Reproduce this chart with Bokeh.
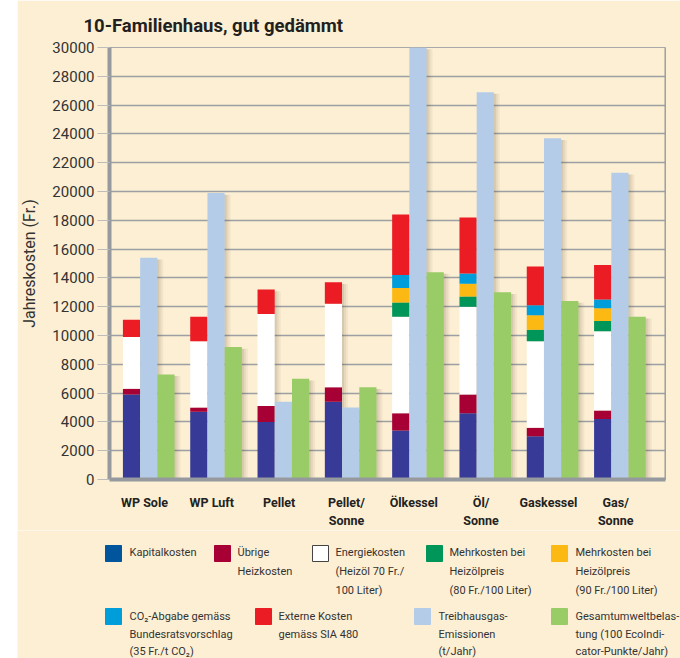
from bokeh.plotting import figure
from bokeh.models import FixedTicker, Range1d, Spacer, ColumnDataSource, Span
from bokeh.layouts import row, column
from bokeh.embed import file_html
from bokeh.resources import INLINE
from bokeh.core.properties import value

# ---------------- data ----------------
categories = ["WP Sole", "WP Luft", "Pellet", "Pellet/\nSonne", "Ölkessel", "Öl/\nSonne", "Gaskessel", "Gas/\nSonne"]
kapitalkosten = [5900, 4700, 4000, 5400, 3400, 4600, 3000, 4200]
uebrige_heizkosten = [400, 300, 1100, 1000, 1200, 1300, 600, 600]
energiekosten = [3600, 4600, 6400, 5800, 6700, 6100, 6000, 5500]
mehrkosten_80 = [0, 0, 0, 0, 1000, 700, 800, 700]
mehrkosten_90 = [0, 0, 0, 0, 1000, 900, 1000, 900]
co2_abgabe = [0, 0, 0, 0, 900, 700, 700, 600]
externe_kosten = [1200, 1700, 1700, 1500, 4200, 3900, 2700, 2400]
treibhausgas = [15400, 19900, 5400, 5000, 30000, 26900, 23700, 21300]
gesamtumwelt = [7300, 9200, 7000, 6400, 14400, 13000, 12400, 11300]
y_ticks = list(range(0, 30001, 2000))

stack_names = ["kap", "ueb", "ene", "m80", "m90", "co2", "ext"]
stack_colors = ["#373b97", "#a60034", "#ffffff", "#00965a", "#fcb913", "#009ddb", "#ec1c24"]

legend_entries = [
    (["Kapitalkosten"], "#00559c"),
    (["Übrige", "Heizkosten"], "#a60034"),
    (["Energiekosten", "(Heizöl 70 Fr./", "100 Liter)"], "#ffffff"),
    (["Mehrkosten bei", "Heizölpreis", "(80 Fr./100 Liter)"], "#00965a"),
    (["Mehrkosten bei", "Heizölpreis", "(90 Fr./100 Liter)"], "#fcb913"),
    (["CO\u2082-Abgabe gemäss", "Bundesratsvorschlag", "(35 Fr./t CO\u2082)"], "#009ddb"),
    (["Externe Kosten", "gemäss SIA 480"], "#ec1c24"),
    (["Treibhausgas-", "Emissionen", "(t/Jahr)"], "#b4cce8"),
    (["Gesamtumweltbelas-", "tung (100 EcoIndi-", "cator-Punkte/Jahr)"], "#99cc66"),
]

# ---------------- layout helpers (page pixels -> data) ----------------
FONT = "Roboto"
BG = "#fdefd3"
X0, DX = 147.3, 67.43


def xd(px):
    return (px - X0) / DX


n = len(categories)
idx = list(range(n))
BW = 0.255
OFF = 0.256

src = ColumnDataSource(dict(
    xs=[i - OFF for i in idx], xb=idx, xg=[i + OFF for i in idx],
    kap=kapitalkosten, ueb=uebrige_heizkosten, ene=energiekosten,
    m80=mehrkosten_80, m90=mehrkosten_90, co2=co2_abgabe, ext=externe_kosten,
    tb=treibhausgas, ge=gesamtumwelt,
))
totals = [sum(v) for v in zip(kapitalkosten, uebrige_heizkosten, energiekosten,
                              mehrkosten_80, mehrkosten_90, co2_abgabe, externe_kosten)]

p = figure(width=663, height=530, output_backend="svg", toolbar_location=None,
           x_range=Range1d(xd(108), xd(665)), y_range=Range1d(0, 30000),
           min_border_left=91, min_border_right=15, min_border_top=47, min_border_bottom=43)
p.background_fill_color = BG
p.border_fill_color = BG
p.outline_line_color = "#a8a8a8"
p.outline_line_width = 1

p.title.text = "10-Familienhaus, gut gedämmt"
p.title.align = "left"
p.title.offset = -26
p.title.standoff = 21
p.title.text_font = FONT
p.title.text_font_size = "18.5px"
p.title.text_font_style = "bold"
p.title.text_color = "#231f20"

# shadows
for k, a in ((2, 0.10), (4, 0.08), (6, 0.06)):
    o = k / DX
    p.vbar(x=[i - OFF + o for i in idx], top=[t - 120 for t in totals], width=BW, bottom=0,
           fill_color="#5a4a30", fill_alpha=a, line_color=None)
    p.vbar(x=[i + o for i in idx], top=[t - 120 for t in treibhausgas], width=BW, bottom=0,
           fill_color="#5a4a30", fill_alpha=a, line_color=None)
    p.vbar(x=[i + OFF + o for i in idx], top=[t - 120 for t in gesamtumwelt], width=BW, bottom=0,
           fill_color="#5a4a30", fill_alpha=a, line_color=None)

p.vbar_stack(stack_names, x="xs", width=BW, color=stack_colors, line_color=None, source=src)
p.vbar(x="xb", top="tb", width=BW, bottom=0, fill_color="#b4cce8", line_color=None, source=src)
p.vbar(x="xg", top="ge", width=BW, bottom=0, fill_color="#99cc66", line_color=None, source=src)

# axes
p.yaxis.ticker = FixedTicker(ticks=y_ticks)
p.ygrid.ticker = FixedTicker(ticks=y_ticks)
p.ygrid.grid_line_color = "#9c9fa3"
p.ygrid.grid_line_width = 1.5
p.xgrid.grid_line_color = None
p.yaxis.axis_line_color = "#96999d"
p.yaxis.axis_line_width = 4
p.yaxis.major_tick_out = 12
p.yaxis.major_tick_in = 0
p.yaxis.major_tick_line_color = "#bcbcbc"
p.yaxis.minor_tick_line_color = None
p.yaxis.major_label_text_font = FONT
p.yaxis.major_label_text_font_size = "15px"
p.yaxis.major_label_text_color = "#333333"
p.yaxis.major_label_standoff = 3
p.yaxis.axis_label = "Jahreskosten (Fr.)"
p.yaxis.axis_label_text_font = FONT
p.yaxis.axis_label_text_font_size = "16px"
p.yaxis.axis_label_text_font_style = "normal"
p.yaxis.axis_label_text_color = "#333333"
p.yaxis.axis_label_standoff = 10

xt = [i - 0.0625 for i in idx]
p.xaxis.ticker = FixedTicker(ticks=xt)
p.xaxis.major_label_overrides = {t: c for t, c in zip(xt, categories)}
p.xaxis.axis_line_color = "#96999d"
p.xaxis.axis_line_width = 4
p.xaxis.major_tick_line_color = None
p.xaxis.minor_tick_line_color = None
p.xaxis.major_label_text_font = FONT
p.xaxis.major_label_text_font_size = "12.5px"
p.xaxis.major_label_text_font_style = "bold"
p.xaxis.major_label_text_color = "#222222"
p.xaxis.major_label_standoff = 9

p.add_layout(Span(location=xd(666), dimension="height", line_color="#96999d", line_width=4))

# ---------------- legend panel (coordinates = page pixels) ----------------
lg = figure(width=663, height=128, output_backend="svg", toolbar_location=None,
            x_range=Range1d(17, 680), y_range=Range1d(658, 530),
            x_axis_location=None, y_axis_location=None,
            min_border_left=0, min_border_right=0, min_border_top=0, min_border_bottom=0)
lg.background_fill_color = BG
lg.border_fill_color = BG
lg.outline_line_color = None
lg.grid.grid_line_color = None

sw_x = [105, 214, 312, 426, 551, 105, 255, 414, 551]
tx_x = [129, 237, 335, 449, 575, 129, 278, 438, 575]
row_top = [545] * 5 + [608] * 4
line_y0 = [552] * 5 + [616] * 4
line_dy = [19] * 5 + [17.5] * 4

q_l, q_r, q_t, q_b, q_c, q_lc = [], [], [], [], [], []
t_x, t_y, t_t = [], [], []
for k, (lines, col) in enumerate(legend_entries):
    q_l.append(sw_x[k]); q_r.append(sw_x[k] + 16)
    q_t.append(row_top[k]); q_b.append(row_top[k] + 16)
    q_c.append(col); q_lc.append("#444444" if col == "#ffffff" else col)
    for j, t in enumerate(lines):
        t_x.append(tx_x[k]); t_y.append(line_y0[k] + j * line_dy[k]); t_t.append(t)

lg.quad(left=q_l, right=q_r, top=q_t, bottom=q_b, fill_color=q_c, line_color=q_lc, line_width=1)
lg.text(x=t_x, y=t_y, text=t_t, text_font=value(FONT), text_font_size=value("11px"),
        text_color="#333333", text_baseline="middle", text_align="left")

layout = column(row(Spacer(width=17, height=530), p), row(Spacer(width=17, height=128), lg))
open("out.html", "w").write(file_html(layout, INLINE))
